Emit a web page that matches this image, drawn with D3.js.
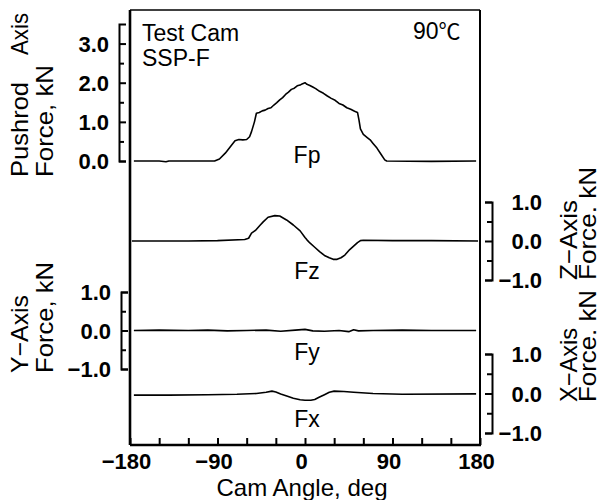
<!DOCTYPE html>
<html>
<head>
<meta charset="utf-8">
<script src="https://cdn.jsdelivr.net/npm/d3@7"></script>
<style>
  body { margin: 0; background: #fff; }
  svg { display: block; font-family: "Liberation Sans", Arial, sans-serif; }
  .tick text { font-size: 22px; font-weight: bold; fill: #000; }
  .tick line, .domain { stroke: #000; stroke-width: 2px; }
  .title { font-size: 24px; fill: #000; }
  .curve { fill: none; stroke: #000; stroke-width: 1.6px; stroke-linejoin: round; }
</style>
</head>
<body>
<svg width="601" height="500"></svg>
<script>
// cam angle ticks
const angleTicks = [-180, -150, -120, -90, -60, -30, 0, 30, 60, 90, 120, 150, 180];
const angleLabels = [-180, -90, 0, 90, 180];

// pushrod axis force Fp (kN)
const fpAngle = [-176, -150, -143, -140, -135, -93, -88, -82, -77, -72, -68, -64, -60, -57, -55, -52, -50, -47, -44, -41, -38, -35, -32, -29, -26, -23, -20, -17, -14, -11, -8, -5, -3, 0, 2, 5, 8, 11, 15, 19, 23, 27, 31, 35, 39, 43, 47, 51, 54, 55.5, 57, 60, 64, 67, 70, 74, 78, 82, 84, 130, 176];
const fpForce = [0, 0, -0.02, 0, 0, 0, 0.05, 0.2, 0.36, 0.52, 0.55, 0.54, 0.55, 0.62, 0.75, 1.0, 1.22, 1.24, 1.28, 1.3, 1.34, 1.36, 1.43, 1.49, 1.56, 1.62, 1.7, 1.76, 1.83, 1.86, 1.92, 1.94, 1.97, 2.0, 1.96, 1.93, 1.89, 1.85, 1.78, 1.73, 1.66, 1.6, 1.55, 1.47, 1.43, 1.36, 1.32, 1.27, 1.24, 1.05, 0.82, 0.68, 0.6, 0.54, 0.45, 0.33, 0.18, 0.03, 0, -0.01, 0];

// z-axis force Fz (kN)
const fzAngle = [-178, -120, -90, -62, -58, -55, -51, -46, -43, -38, -31, -26, -19, -12, -5, 0, 2, 5, 10, 15, 20, 25, 29, 33, 37, 41, 46, 50, 54, 57, 60, 90, 130, 178];
const fzForce = [0, 0, 0.01, 0.04, 0.07, 0.2, 0.27, 0.41, 0.49, 0.61, 0.65, 0.64, 0.54, 0.41, 0.26, 0.09, 0.03, -0.05, -0.16, -0.27, -0.37, -0.43, -0.47, -0.47, -0.43, -0.36, -0.22, -0.13, -0.04, 0.01, 0.02, 0.01, 0.01, 0];

// y-axis force Fy (kN)
const fyAngle = [-176, -150, -120, -100, -80, -60, -40, -25, -10, 0, 8, 20, 35, 45, 50, 55, 70, 100, 130, 176];
const fyForce = [0, 0.01, 0, 0.01, -0.01, 0, 0.01, -0.02, 0.01, 0.03, -0.01, -0.02, 0, -0.03, 0.02, -0.01, 0, 0.01, 0, 0];

// x-axis force Fx (kN)
const fxAngle = [-176, -140, -100, -70, -50, -40, -34, -30, -25, -18, -12, -5, 0, 6, 10, 15, 20, 25, 30, 40, 50, 70, 100, 176];
const fxForce = [-0.04, -0.04, -0.03, -0.02, 0, 0.03, 0.06, 0.04, -0.01, -0.07, -0.12, -0.16, -0.17, -0.17, -0.15, -0.09, -0.03, 0.03, 0.06, 0.05, 0.03, 0, -0.02, -0.01];

const svg = d3.select('svg');

const plotL = 130, plotR = 480, plotT = 10, plotB = 445;

const x = d3.scaleLinear().domain([-180, 180]).range([plotL, plotR]);

const yFp = d3.scaleLinear().domain([0, 3.5]).range([161, 24]);
const yFz = d3.scaleLinear().domain([-1, 1]).range([280, 202]);
const yFy = d3.scaleLinear().domain([-1, 1]).range([369, 292]);
const yFx = d3.scaleLinear().domain([-1, 1]).range([433, 354]);

const fmt = d3.format('.1f');

// bracket style force axis
function bracket(scale, xPos, side, major, minor) {
  const g = svg.append('g').attr('transform', `translate(${xPos},0)`);
  const mk = side === 'left' ? d3.axisLeft : d3.axisRight;
  g.call(mk(scale).tickValues(major).tickSizeInner(-7).tickSizeOuter(-7)
    .tickPadding(side === 'left' ? 10 : 50).tickFormat(fmt));
  g.selectAll('.tick text').attr('dy', '0.36em');
  if (side === 'right') g.selectAll('.tick text').attr('text-anchor', 'end');
  const m = svg.append('g').attr('transform', `translate(${xPos},0)`);
  m.call(mk(scale).tickValues(minor).tickSizeInner(-5).tickSizeOuter(0).tickFormat(''));
  m.select('.domain').remove();
}

bracket(yFp, 119, 'left', [0, 1, 2, 3], [0.5, 1.5, 2.5]);
bracket(yFy, 121, 'left', [-1, 0, 1], [-0.5, 0.5]);
bracket(yFz, 492, 'right', [-1, 0, 1], [-0.5, 0.5]);
bracket(yFx, 492, 'right', [-1, 0, 1], [-0.5, 0.5]);

// bottom angle axis, ticks pointing inward
const xa = svg.append('g').attr('transform', `translate(0,${plotB})`)
  .call(d3.axisBottom(x).tickValues(angleTicks).tickSizeInner(-7).tickSizeOuter(0)
    .tickPadding(8).tickFormat(d => angleLabels.includes(d) ? d3.format('d')(d) : ''));
xa.select('.domain').remove();
xa.selectAll('.tick text').attr('dx', '-4');

// frame
svg.append('line').attr('x1', plotL).attr('x2', plotL).attr('y1', plotT).attr('y2', plotB)
  .attr('stroke', '#000').attr('stroke-width', 2.6);
svg.append('line').attr('x1', plotL).attr('x2', plotR + 1).attr('y1', plotB).attr('y2', plotB)
  .attr('stroke', '#000').attr('stroke-width', 2.6);
svg.append('line').attr('x1', plotL).attr('x2', plotR).attr('y1', plotT).attr('y2', plotT)
  .attr('stroke', '#000').attr('stroke-width', 1.6);
svg.append('line').attr('x1', plotR).attr('x2', plotR).attr('y1', plotT).attr('y2', plotB)
  .attr('stroke', '#000').attr('stroke-width', 2);

// curves
const series = [
  { a: fpAngle, v: fpForce, y: yFp },
  { a: fzAngle, v: fzForce, y: yFz },
  { a: fyAngle, v: fyForce, y: yFy },
  { a: fxAngle, v: fxForce, y: yFx }
];
series.forEach(s => {
  const line = d3.line().x(i => x(s.a[i])).y(i => s.y(s.v[i]));
  svg.append('path').attr('class', 'curve').attr('d', line(d3.range(s.a.length)));
});

// curve labels
const labelFont = 23;
[['Fp', yFp, -0.05], ['Fz', yFz, -0.97], ['Fy', yFy, -0.76], ['Fx', yFx, -0.86]]
  .forEach(([t, sc, v]) => {
    svg.append('text').attr('x', x(0) + 2).attr('y', sc(v))
      .attr('text-anchor', 'middle').attr('font-size', labelFont).text(t);
  });

// annotations
svg.append('text').attr('x', 142).attr('y', 41).attr('font-size', 23).text('Test Cam');
svg.append('text').attr('x', 142).attr('y', 66).attr('font-size', 23).text('SSP-F');
svg.append('text').attr('x', 413).attr('y', 39).attr('font-size', 23)
  .call(t => {
    t.append('tspan').text('90');
    t.append('tspan').attr('font-family', '"Noto Sans CJK JP"').attr('font-size', 22).text('℃');
  });

// rotated axis titles
function vtitle(str, tx, ty, len) {
  const t = svg.append('text').attr('class', 'title')
    .attr('transform', `translate(${tx},${ty}) rotate(-90)`)
    .text(str);
  if (len) t.attr('textLength', len).attr('lengthAdjust', 'spacingAndGlyphs');
}
vtitle('Pushrod', 28, 177, 95);
vtitle('Axis', 28, 55, 42);
vtitle('Force, kN', 53, 177, 112);
vtitle('Y−Axis', 28, 373, 78);
vtitle('Force, kN', 53, 373, 111);
vtitle('Z−Axis', 577, 280, 80);
vtitle('Force. kN', 596, 280, 113);
vtitle('X−Axis', 577, 402, 74);
vtitle('Force. kN', 596, 402, 112);

svg.append('text').attr('class', 'title')
  .attr('x', 302).attr('y', 496).attr('text-anchor', 'middle').attr('font-size', 22)
  .attr('textLength', 171).attr('lengthAdjust', 'spacingAndGlyphs')
  .text('Cam Angle, deg');
</script>
</body>
</html>
